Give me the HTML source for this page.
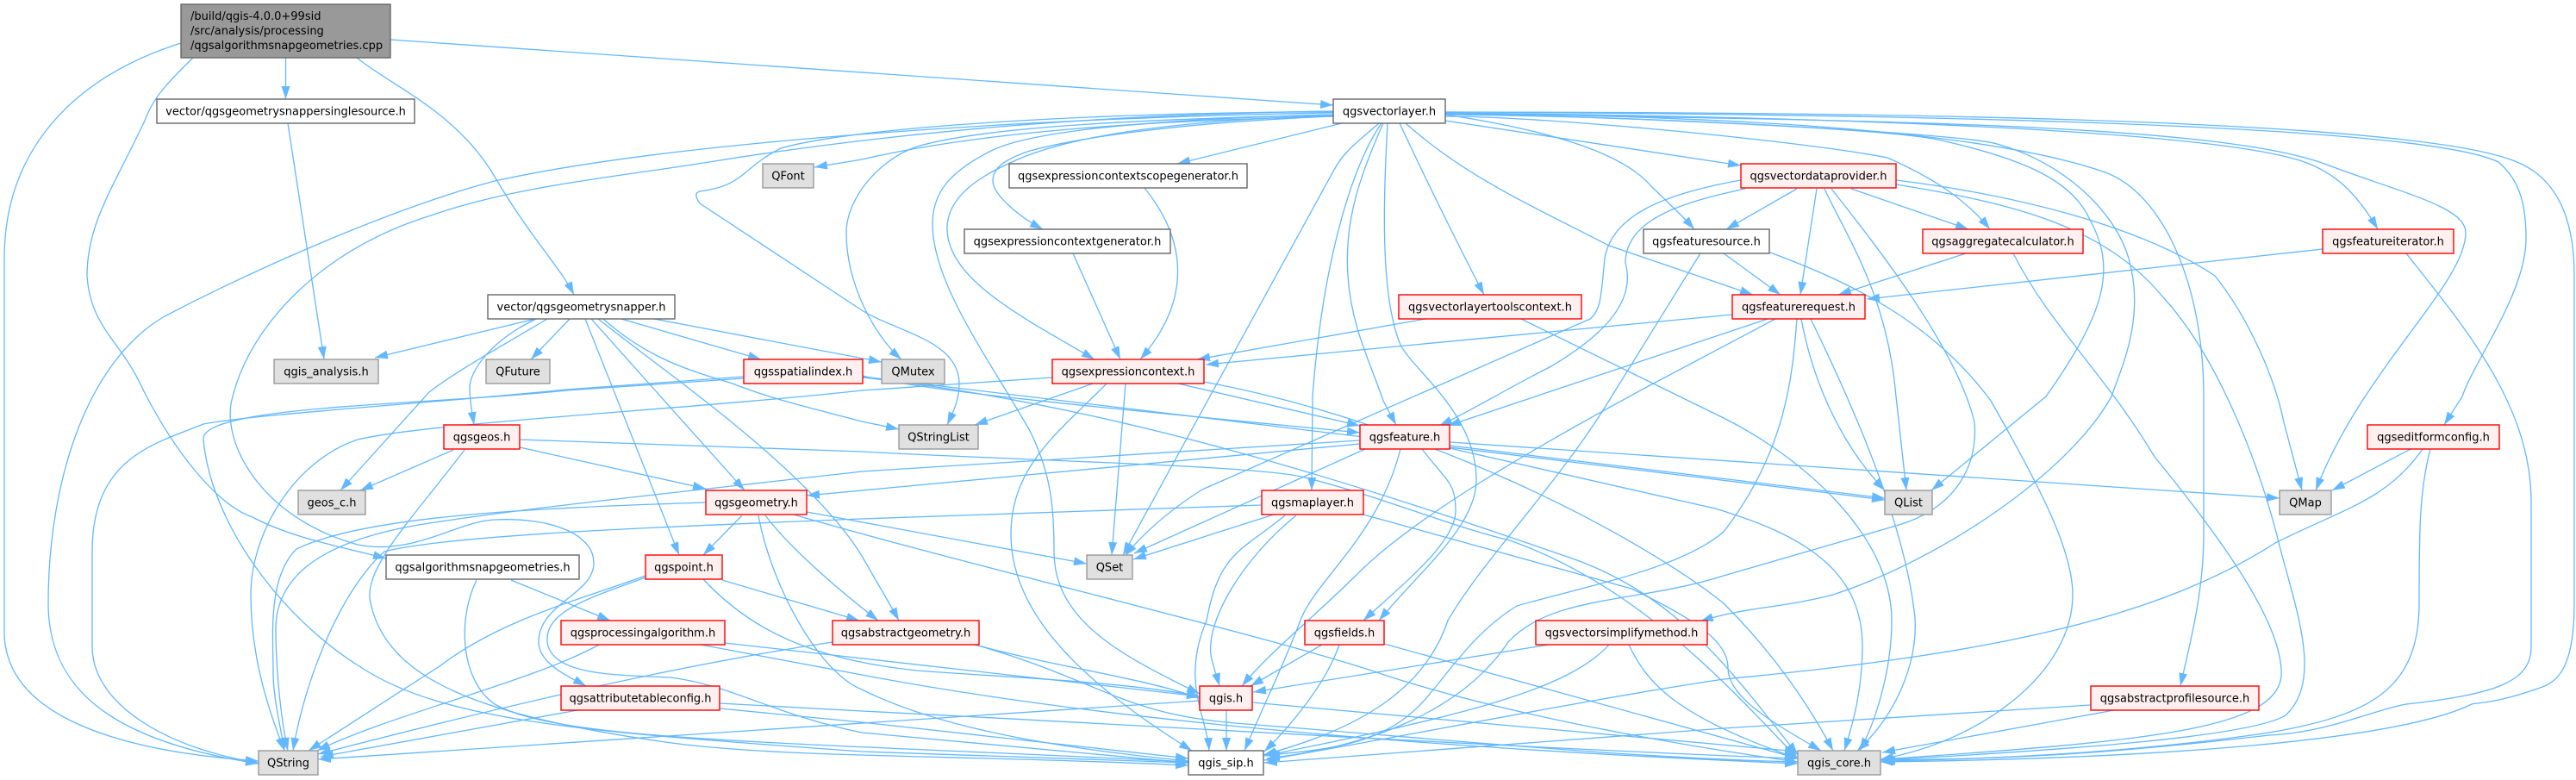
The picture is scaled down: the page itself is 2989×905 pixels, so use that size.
<!DOCTYPE html>
<html><head><meta charset="utf-8"><style>
html,body{margin:0;padding:0;background:#fff;width:2989px;height:905px;overflow:hidden}
svg{display:block}
text{font-family:"DejaVu Sans","Liberation Sans",sans-serif;font-size:13px;fill:#000;text-anchor:middle}
.w{fill:#fff;stroke:#666;stroke-width:1.4}
.g{fill:#e0e0e0;stroke:#999;stroke-width:1.4}
.r{fill:#fff0f0;stroke:#f00;stroke-width:1.4}
</style></head><body>
<svg xmlns="http://www.w3.org/2000/svg" width="2989" height="905" viewBox="0 0 2989 905">
<defs><marker id="a" markerUnits="userSpaceOnUse" markerWidth="16" markerHeight="11" refX="15" refY="5.5" orient="auto"><path d="M0,0.5L15,5.5L0,10.5z" fill="#63b8ff"/></marker></defs>
<g fill="none" stroke="#63b8ff" stroke-width="1.3" marker-end="url(#a)">
<path d="M453,46L1547,122"/>
<path d="M210,50C90,88 5,170 5,300L5,733C5,820 110,870 300,883"/>
<path d="M224,67C192,98 177,115 168,140C130,220 101,260 101,320C105,380 140,395 165,450C200,520 250,585 293,600C340,625 400,635 448,648"/>
<path d="M331.5,67L331.5,115"/>
<path d="M414,67C455,100 530,130 574,205C615,275 650,310 666,342"/>
<path d="M334,143L376,417"/>
<path d="M621,370L435,415"/>
<path d="M661,370L616,417"/>
<path d="M622,370C570,395 545,430 545,450C545,465 548,480 550,493"/>
<path d="M635,370C585,400 530,430 498,455L395,569"/>
<path d="M679,370L788,644"/>
<path d="M686,370L864,569"/>
<path d="M694,370C745,410 780,435 805,455C870,505 960,580 1000,645C1020,680 1035,705 1043,720"/>
<path d="M721,370L883,417"/>
<path d="M700,370C750,415 800,430 850,445C900,465 960,478 1000,489L1043,498"/>
<path d="M759,370L1023,420"/>
<path d="M863,437L657,452C500,468 300,480 236,492C180,515 107,530 107,640L107,750C107,820 200,870 300,885"/>
<path d="M863,439L657,453C500,470 232,470 236,510C245,610 330,720 420,775C520,840 700,850 1000,872L1379,885"/>
<path d="M1001,436C1080,455 1300,475 1578,502"/>
<path d="M1001,437C1200,462 1700,520 2187,580"/>
<path d="M1001,438C1300,470 1600,570 1830,650C1950,695 2010,780 2086,876"/>
<path d="M1547,131C1250,135 800,160 574,210C460,240 300,310 191,367C100,420 56,560 56,700C56,800 130,860 300,886"/>
<path d="M1547,135C1350,140 1150,150 1000,185L945,194"/>
<path d="M1547,129C1300,132 1060,150 829,187C720,205 600,215 500,250C370,290 290,380 270,460C255,510 300,600 415,632C480,645 530,605 574,603C640,600 689,620 689,653C689,690 625,700 625,745C625,770 660,785 680,796"/>
<path d="M1547,130C1300,130 1000,145 906,172C860,195 865,215 812,222C805,224 808,230 812,236L1000,360C1040,385 1113,395 1113,445C1113,465 1105,480 1099,493"/>
<path d="M1547,133C1350,138 1150,145 1064,170C1020,185 982,230 982,270C982,330 1015,390 1046,417"/>
<path d="M1547,133C1350,138 1200,150 1150,175C1100,200 1082,225 1082,260C1082,330 1150,420 1195,500C1220,550 1223,590 1223,640C1223,720 1300,760 1392,805"/>
<path d="M1547,134C1350,140 1230,160 1170,190C1125,210 1099,235 1099,265C1099,325 1190,370 1270,417"/>
<path d="M1547,135C1370,142 1250,160 1195,175C1165,185 1152,195 1152,210C1152,225 1180,250 1210,266"/>
<path d="M1557,143L1366,190"/>
<path d="M1600,143C1575,165 1560,175 1548,197L1303,644"/>
<path d="M1603,143C1570,190 1535,300 1523,460L1522,569"/>
<path d="M1605,143C1575,210 1560,260 1564,320C1568,380 1590,420 1605,465L1620,493"/>
<path d="M1610,143C1606,220 1600,340 1625,400C1640,430 1713,480 1713,557C1713,610 1650,660 1600,720"/>
<path d="M1624,143C1660,220 1700,300 1722,342"/>
<path d="M1631,143C1700,205 1780,240 1867,285L2034,342"/>
<path d="M1677,140L2020,192"/>
<path d="M1677,133C1790,150 1880,175 1915,215C1935,235 1952,250 1966,266"/>
<path d="M1677,135C1800,135 2100,165 2190,183C2240,205 2280,230 2309,266"/>
<path d="M1677,133C1900,135 2200,150 2253,163C2350,185 2405,210 2425,255C2455,310 2445,360 2374,460L2241,569"/>
<path d="M1677,132C1900,135 2280,155 2317,167C2400,190 2456,250 2470,300C2490,370 2460,430 2450,460C2400,550 2250,650 2127,690C2070,705 2020,705 1973,721"/>
<path d="M1677,131C2000,135 2300,150 2443,200C2510,225 2557,330 2557,460L2557,620C2557,690 2540,750 2530,796"/>
<path d="M1677,131C2100,140 2560,140 2697,190C2790,225 2861,240 2861,270C2861,330 2740,430 2687,569"/>
<path d="M1677,131C2100,135 2560,150 2671,187C2710,200 2735,225 2759,266"/>
<path d="M1677,130C2100,132 2800,140 2899,188C2925,210 2931,240 2931,277C2931,340 2870,420 2857,460L2836,493"/>
<path d="M1677,130C2100,130 2790,135 2918,187C2965,205 2987,250 2987,320L2987,700C2987,770 2970,790 2950,797C2900,815 2880,815 2868,817C2780,860 2500,880 2182,884"/>
<path d="M2085,219L2003,266"/>
<path d="M2108,219L2089,342"/>
<path d="M2148,219L2284,266"/>
<path d="M2020,209C1930,225 1870,250 1862,300C1858,340 1858,360 1845,370L1395,568C1360,590 1330,615 1305,645"/>
<path d="M2025,219C1950,235 1886,255 1886,305C1900,355 1850,395 1800,425C1750,450 1710,475 1670,494"/>
<path d="M2117,219C2140,270 2190,340 2200,460L2212,569"/>
<path d="M2125,219C2165,270 2270,400 2291,490C2295,540 2270,590 2200,610L2000,668C1900,700 1800,690 1750,745C1700,820 1600,865 1470,880"/>
<path d="M2200,209C2330,225 2480,260 2570,320C2610,370 2640,440 2650,490L2671,569"/>
<path d="M2200,214C2330,235 2440,260 2510,345C2570,410 2620,530 2646,637C2665,710 2695,790 2652,830C2610,855 2400,870 2182,882"/>
<path d="M2281,294L2133,342"/>
<path d="M2336,294C2380,380 2440,430 2500,530C2590,640 2650,730 2647,785C2640,845 2500,860 2182,881"/>
<path d="M2695,289L2166,347"/>
<path d="M2792,294C2860,380 2937,470 2937,583L2937,750C2937,790 2900,805 2792,817C2750,825 2700,850 2633,853C2400,880 2300,880 2182,882"/>
<path d="M2000,294L2066,342"/>
<path d="M2054,293C2140,325 2240,370 2310,465C2370,570 2405,640 2405,690C2405,780 2300,860 2182,881"/>
<path d="M1973,294L1870,460C1810,560 1720,650 1680,720C1650,810 1560,850 1466,876"/>
<path d="M2010,365L1399,423"/>
<path d="M2051,370L1680,494"/>
<path d="M2060,370L1909,450C1780,520 1640,600 1574,667C1520,720 1470,760 1441,796"/>
<path d="M2085,370C2080,430 2075,520 2000,617C1950,660 1840,680 1760,703C1700,740 1670,800 1638,827C1600,860 1550,870 1470,876"/>
<path d="M2090,370C2105,450 2140,520 2187,569"/>
<path d="M2101,370C2140,450 2210,600 2222,717C2225,770 2200,830 2155,871"/>
<path d="M1654,370L1389,417"/>
<path d="M1765,370L2000,485C2090,530 2195,620 2195,720C2195,780 2175,840 2158,871"/>
<path d="M1682,513L2645,578"/>
<path d="M1682,517L2187,578"/>
<path d="M1682,520L1990,590C2090,620 2161,660 2161,750C2161,800 2150,840 2140,871"/>
<path d="M1625,521C1600,620 1530,670 1510,717C1490,770 1470,810 1444,871"/>
<path d="M1650,521C1680,560 1689,560 1689,593C1689,630 1625,680 1582,720"/>
<path d="M1578,511L1000,547C800,570 600,590 480,610C370,630 320,670 320,730C320,770 325,830 334,871"/>
<path d="M1578,515L936,575"/>
<path d="M1584,521L1316,642"/>
<path d="M1478,597L1315,649"/>
<path d="M1464,586L1000,602C800,610 520,620 446,640C400,680 355,780 340,871"/>
<path d="M1491,598C1440,640 1415,640 1400,720C1370,790 1400,830 1403,871"/>
<path d="M1504,598C1440,650 1400,720 1405,760C1408,775 1412,785 1415,796"/>
<path d="M1582,597L1893,683C1970,720 2005,745 2005,775C2005,810 2060,840 2113,871"/>
<path d="M1221,438L1000,453C800,475 500,490 415,510C340,535 291,620 291,690C291,760 310,820 330,871"/>
<path d="M1268,445L1131,493"/>
<path d="M1306,445L1290,644"/>
<path d="M1367,445L1578,494"/>
<path d="M1397,443C1650,490 1900,620 2000,700C2060,760 2100,820 2127,871"/>
<path d="M1284,445C1230,500 1173,540 1173,620C1173,720 1270,800 1383,871"/>
<path d="M1328,218C1370,270 1390,340 1323,417"/>
<path d="M1245,294L1300,417"/>
<path d="M603,519L819,567"/>
<path d="M526,522L418,569"/>
<path d="M539,522C480,600 420,660 430,700C450,790 560,830 765,860C900,880 1100,875 1379,888"/>
<path d="M603,510L1000,524C1200,535 1450,540 1510,553C1600,575 1680,610 1752,627C1900,680 2000,790 2086,880"/>
<path d="M819,583C600,590 420,600 344,637C310,670 317,740 317,780C317,810 325,840 330,871"/>
<path d="M936,594L1261,654"/>
<path d="M921,597C1100,650 1500,745 1606,783C1750,830 1950,865 2086,884"/>
<path d="M880,598C895,680 950,780 1000,800C1100,850 1250,870 1379,883"/>
<path d="M861,598L816,644"/>
<path d="M888,598C920,640 980,690 1019,720"/>
<path d="M838,673L997,720"/>
<path d="M816,672C870,730 940,765 1064,778C1150,785 1300,790 1392,808"/>
<path d="M749,668C660,700 580,720 510,773L358,871"/>
<path d="M749,670C680,695 632,710 635,745C640,785 720,783 778,786C850,795 900,830 1000,850L1379,885"/>
<path d="M695,748C620,790 450,830 368,871"/>
<path d="M841,746L1392,808"/>
<path d="M813,748L1000,783C1300,840 1700,870 2086,886"/>
<path d="M966,745C800,770 620,810 369,875"/>
<path d="M1131,748C1230,775 1320,785 1392,810"/>
<path d="M1131,748C1280,790 1300,830 1446,840C1700,860 1900,880 2086,884"/>
<path d="M670,824L372,878"/>
<path d="M835,816L1000,825C1300,840 1800,870 2086,880"/>
<path d="M835,822L1000,838L1379,880"/>
<path d="M593,673L708,720"/>
<path d="M553,673C530,720 535,790 574,817C650,860 900,860 1379,884"/>
<path d="M1392,813L369,881"/>
<path d="M1423,824L1423,871"/>
<path d="M1453,815L2086,872"/>
<path d="M1534,748L1451,796"/>
<path d="M1554,748C1540,790 1500,840 1467,872"/>
<path d="M1606,747L2086,880"/>
<path d="M1797,748L1454,803"/>
<path d="M1867,748C1820,800 1700,830 1467,877"/>
<path d="M1890,748C1910,790 1940,830 2086,880"/>
<path d="M2453,824L2184,873"/>
<path d="M2426,818L2000,845L1467,885"/>
<path d="M2797,521L2706,569"/>
<path d="M2811,521C2770,580 2720,590 2640,630C2500,720 2300,760 2000,788C1850,810 1600,860 1467,882"/>
<path d="M2820,521C2807,570 2807,620 2807,700C2807,800 2750,830 2633,850C2500,870 2350,880 2184,883"/>
</g>
<rect x="210" y="5" width="243" height="62" fill="#999" stroke="#666" stroke-width="1.4"/>
<text x="221" y="23" style="text-anchor:start">/build/qgis-4.0.0+99sid</text>
<text x="221" y="40" style="text-anchor:start">/src/analysis/processing</text>
<text x="221" y="57" style="text-anchor:start">/qgsalgorithmsnapgeometries.cpp</text>
<rect class="w" x="182" y="115" width="299" height="28"/><text x="331.5" y="133.5">vector/qgsgeometrysnappersinglesource.h</text>
<rect class="w" x="1547" y="115" width="130" height="28"/><text x="1612" y="133.5">qgsvectorlayer.h</text>
<rect class="g" x="885" y="190" width="59" height="28"/><text x="914.5" y="208.5">QFont</text>
<rect class="w" x="1171" y="190" width="276" height="28"/><text x="1309" y="208.5">qgsexpressioncontextscopegenerator.h</text>
<rect class="r" x="2020" y="190" width="180" height="28"/><text x="2110" y="208.5">qgsvectordataprovider.h</text>
<rect class="w" x="1119" y="266" width="239" height="28"/><text x="1238.5" y="284.5">qgsexpressioncontextgenerator.h</text>
<rect class="w" x="1907" y="266" width="146" height="28"/><text x="1980" y="284.5">qgsfeaturesource.h</text>
<rect class="r" x="2231" y="266" width="186" height="28"/><text x="2324" y="284.5">qgsaggregatecalculator.h</text>
<rect class="r" x="2695" y="266" width="152" height="28"/><text x="2771" y="284.5">qgsfeatureiterator.h</text>
<rect class="w" x="566" y="342" width="217" height="28"/><text x="674.5" y="360.5">vector/qgsgeometrysnapper.h</text>
<rect class="r" x="1623" y="342" width="212" height="28"/><text x="1729" y="360.5">qgsvectorlayertoolscontext.h</text>
<rect class="r" x="2010" y="342" width="154" height="28"/><text x="2087" y="360.5">qgsfeaturerequest.h</text>
<rect class="g" x="318" y="417" width="121" height="28"/><text x="378.5" y="435.5">qgis_analysis.h</text>
<rect class="g" x="564" y="417" width="74" height="28"/><text x="601" y="435.5">QFuture</text>
<rect class="r" x="863" y="417" width="138" height="28"/><text x="932" y="435.5">qgsspatialindex.h</text>
<rect class="g" x="1023" y="417" width="73" height="28"/><text x="1059.5" y="435.5">QMutex</text>
<rect class="r" x="1221" y="417" width="176" height="28"/><text x="1309" y="435.5">qgsexpressioncontext.h</text>
<rect class="r" x="515" y="493" width="88" height="28"/><text x="559" y="511.5">qgsgeos.h</text>
<rect class="g" x="1043" y="493" width="92" height="28"/><text x="1089" y="511.5">QStringList</text>
<rect class="r" x="1578" y="493" width="104" height="28"/><text x="1630" y="511.5">qgsfeature.h</text>
<rect class="r" x="2747" y="493" width="153" height="28"/><text x="2823.5" y="511.5">qgseditformconfig.h</text>
<rect class="g" x="346" y="569" width="78" height="28"/><text x="385" y="587.5">geos_c.h</text>
<rect class="r" x="819" y="569" width="117" height="28"/><text x="877.5" y="587.5">qgsgeometry.h</text>
<rect class="r" x="1464" y="569" width="118" height="28"/><text x="1523" y="587.5">qgsmaplayer.h</text>
<rect class="g" x="2187" y="569" width="55" height="28"/><text x="2214.5" y="587.5">QList</text>
<rect class="g" x="2645" y="569" width="60" height="28"/><text x="2675" y="587.5">QMap</text>
<rect class="w" x="448" y="644" width="224" height="28"/><text x="560" y="662.5">qgsalgorithmsnapgeometries.h</text>
<rect class="r" x="749" y="644" width="89" height="28"/><text x="793.5" y="662.5">qgspoint.h</text>
<rect class="g" x="1261" y="644" width="53" height="28"/><text x="1287.5" y="662.5">QSet</text>
<rect class="r" x="651" y="720" width="190" height="28"/><text x="746" y="738.5">qgsprocessingalgorithm.h</text>
<rect class="r" x="966" y="720" width="170" height="28"/><text x="1051" y="738.5">qgsabstractgeometry.h</text>
<rect class="r" x="1514" y="720" width="92" height="28"/><text x="1560" y="738.5">qgsfields.h</text>
<rect class="r" x="1782" y="720" width="199" height="28"/><text x="1881.5" y="738.5">qgsvectorsimplifymethod.h</text>
<rect class="r" x="651" y="796" width="184" height="28"/><text x="743" y="814.5">qgsattributetableconfig.h</text>
<rect class="r" x="1392" y="796" width="61" height="28"/><text x="1422.5" y="814.5">qgis.h</text>
<rect class="r" x="2426" y="796" width="195" height="28"/><text x="2523.5" y="814.5">qgsabstractprofilesource.h</text>
<rect class="g" x="300" y="871" width="69" height="28"/><text x="334.5" y="889.5">QString</text>
<rect class="w" x="1379" y="871" width="87" height="28"/><text x="1422.5" y="889.5">qgis_sip.h</text>
<rect class="g" x="2086" y="871" width="96" height="28"/><text x="2134" y="889.5">qgis_core.h</text>
</svg>
</body></html>
